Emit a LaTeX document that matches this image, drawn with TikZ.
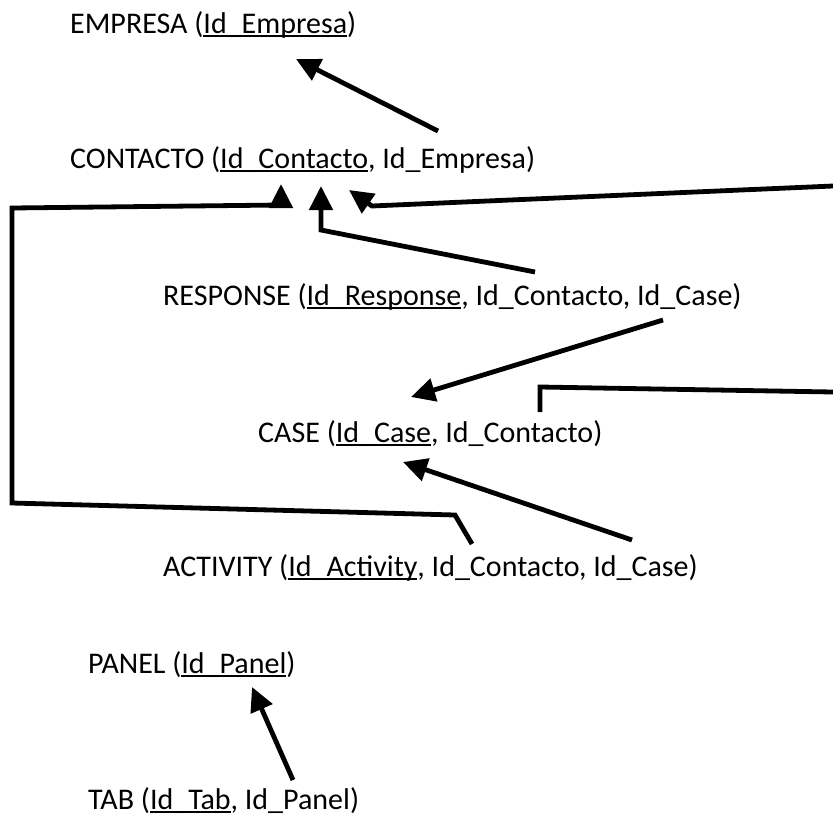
\documentclass[tikz,border=0pt]{standalone}
\usepackage{fontspec}
\setmainfont{Carlito}
\usetikzlibrary{arrows.meta}
% primary-key underline: a thin rule just below the baseline
\newcommand\pkey[1]{\setbox0\hbox{#1}\rlap{\rule[-0.14em]{\wd0}{0.065em}}\box0}
\begin{document}
\begin{tikzpicture}[x=1pt,y=-1pt,
  rel/.style={anchor=base west, inner sep=0pt, font=\fontsize{30}{35}\selectfont, text=black},
  link/.style={line width=4.8pt, line join=miter},
  fk/.style={link, -{Triangle[length=24pt,width=23pt]}}]
\useasboundingbox (0,0) rectangle (833,815);

% relations
\node[rel] (empresa)   at (70,33)   {EMPRESA (\pkey{Id\_Empresa})};
\node[rel] (contacto)  at (70,168)  {CONTACTO (\pkey{Id\_Contacto}, Id\_Empresa)};
\node[rel] (response)  at (163,305) {RESPONSE (\pkey{Id\_Response}, Id\_Contacto, Id\_Case)};
\node[rel] (case)      at (258,442) {CASE (\pkey{Id\_Case}, Id\_Contacto)};
\node[rel] (activity)  at (163,576) {ACTIVITY (\pkey{Id\_Activity}, Id\_Contacto, Id\_Case)};
\node[rel] (panel)     at (88,673)  {PANEL (\pkey{Id\_Panel})};
\node[rel] (tab)       at (88,809)  {TAB (\pkey{Id\_Tab}, Id\_Panel)};

% connector end points
\coordinate (empresaIn)   at (296,59);
\coordinate (contactoOut) at (438,131);
\coordinate (contactoInA) at (281,184);
\coordinate (contactoInB) at (321,186);
\coordinate (contactoInC) at (349,190);
\coordinate (responseOutA) at (535,272);
\coordinate (responseOutB) at (663,320);
\coordinate (caseInA)     at (411,397);
\coordinate (caseInB)     at (403,462);
\coordinate (caseOut)     at (540,412);
\coordinate (activityOutA) at (472,544);
\coordinate (activityOutB) at (632,540);
\coordinate (panelIn)     at (252,687);
\coordinate (tabOut)      at (293,780);
\coordinate (edgeHigh)    at (833,186);
\coordinate (edgeLow)     at (833,392);

% foreign keys
\draw[fk] (contactoOut) -- (empresaIn);
\draw[fk] (responseOutA) -- (321,230) -- (contactoInB);
\draw[fk] (activityOutA) -- (455,515) -- (12,503) -- (12,208) -- (281,205) -- (contactoInA);
\draw[fk] (responseOutB) -- (caseInA);
\draw[fk] (activityOutB) -- (caseInB);
\draw[link] (caseOut) -- (540,387) -- (edgeLow);
\draw[fk] (edgeHigh) -- (372,206) -- (contactoInC);
\draw[fk] (tabOut) -- (panelIn);
\end{tikzpicture}
\end{document}
